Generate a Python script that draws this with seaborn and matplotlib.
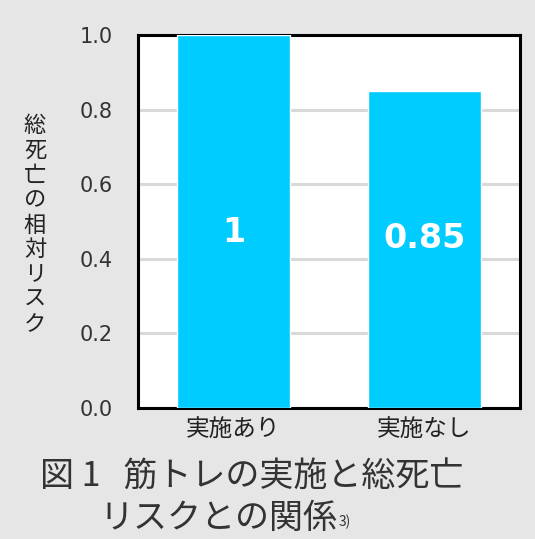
import pandas as pd
import seaborn as sns
import matplotlib
matplotlib.use("Agg")
import matplotlib.pyplot as plt

# Chart data
groups = ["実施あり", "実施なし"]
risk = [1.0, 0.85]
bar_labels = ["1", "0.85"]
label_heights = [0.47, 0.455]
y_ticks = [0.0, 0.2, 0.4, 0.6, 0.8, 1.0]
y_label = "総死亡の相対リスク"
title_line1 = "図 1   筋トレの実施と総死亡"
title_line2 = "リスクとの関係"
title_note = "3)"

df = pd.DataFrame({"group": groups, "risk": risk})

sns.set_style("white")
plt.rcParams["font.family"] = ["Noto Sans CJK JP", "DejaVu Sans"]

bg = "#e6e6e6"
fig = plt.figure(figsize=(5.35, 5.39), dpi=100, facecolor=bg)
ax = fig.add_axes([138 / 535, 1 - 408 / 539, 382 / 535, 373 / 539])
ax.set_facecolor("white")

sns.barplot(data=df, x="group", y="risk", color="#00ccff", width=0.59,
            saturation=1, ax=ax, zorder=3)

ax.set_xlim(-0.5, 1.5)
ax.set_ylim(0, 1.0)
ax.set_yticks(y_ticks)
ax.set_yticklabels([f"{t:.1f}" for t in y_ticks], family="DejaVu Sans")
ax.grid(axis="y", color="#d9d9d9", linewidth=2.2, zorder=0)
ax.set_axisbelow(True)
ax.tick_params(axis="y", length=0, pad=18, labelsize=15, labelcolor="#333333")
ax.tick_params(axis="x", length=0, pad=8, labelsize=17, labelcolor="#222222")
ax.set_xlabel("")
ax.set_ylabel("")
for s in ax.spines.values():
    s.set_color("black")
    s.set_linewidth(2.2)
    s.set_visible(True)

# value labels inside bars
for i, (lab, h) in enumerate(zip(bar_labels, label_heights)):
    ax.text(i, h, lab, ha="center", va="center", color="white",
            fontsize=24, fontweight="bold", family="DejaVu Sans", zorder=5)

# stacked vertical y label
fig.text(35 / 535, 1 - 225 / 539, "\n".join(y_label), ha="center", va="center",
         fontsize=16, linespacing=1.1, color="#222222")

# caption below the chart
fig.text(40 / 535, 1 - 476 / 539, title_line1, ha="left", va="center",
         fontsize=24.5, color="#333333")
t2 = fig.text(100 / 535, 1 - 518 / 539, title_line2, ha="left", va="center",
              fontsize=24.5, color="#333333")
fig.canvas.draw()
bb = t2.get_window_extent(fig.canvas.get_renderer())
fig.text(bb.x1 / 535 + 0.002, 1 - 522 / 539, title_note, ha="left", va="center",
         fontsize=10, color="#333333")

fig.savefig("out.png", dpi=100, facecolor=bg)
